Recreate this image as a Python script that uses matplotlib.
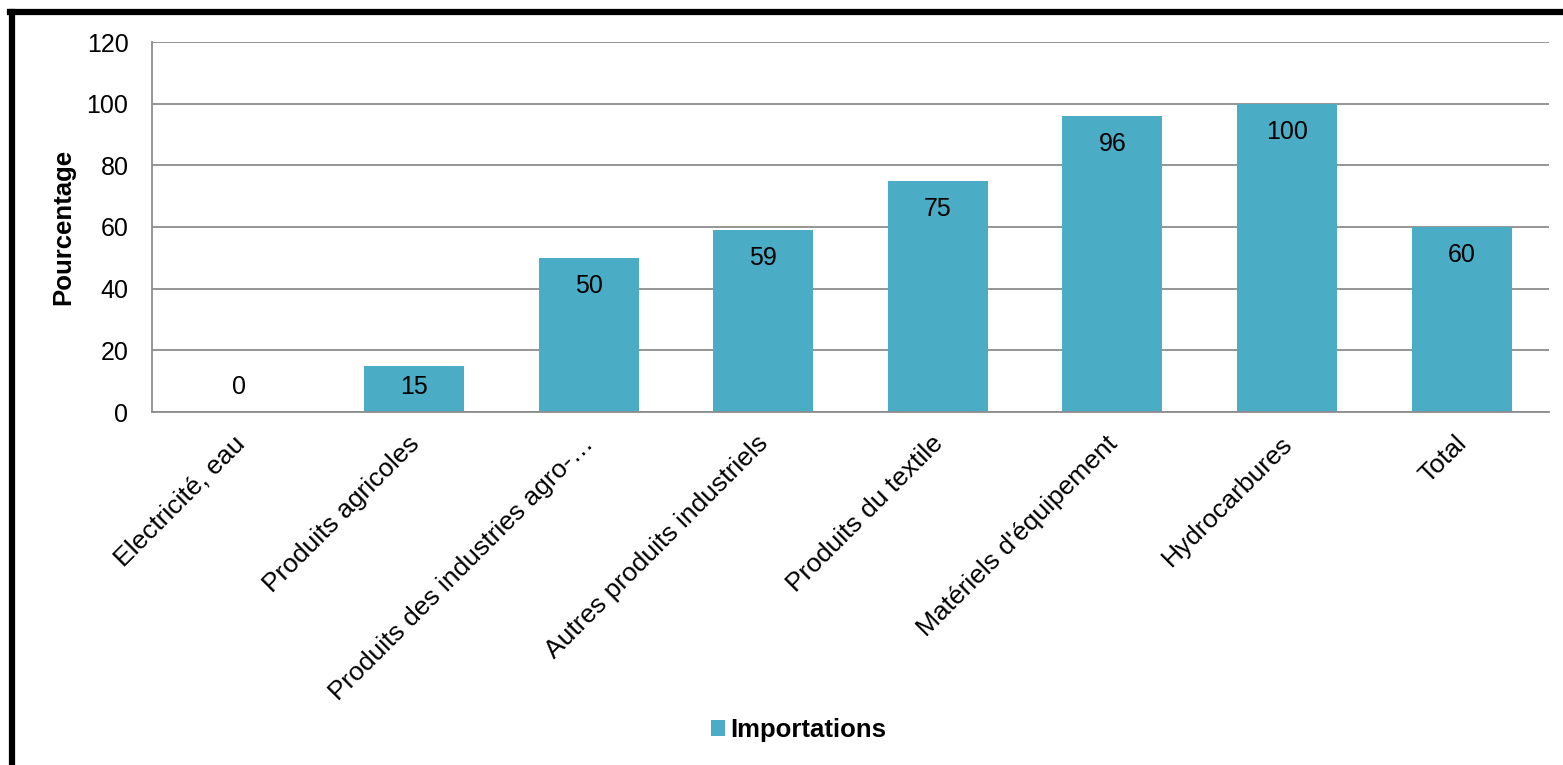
import matplotlib.pyplot as plt
import matplotlib.transforms as mtransforms
from matplotlib.lines import Line2D
from matplotlib.patches import Patch

plt.rcParams['font.family'] = ['Liberation Sans', 'DejaVu Sans']

categories = ["Electricité, eau", "Produits agricoles", "Produits des industries agro-…",
              "Autres produits industriels", "Produits du textile", "Matériels d'équipement",
              "Hydrocarbures", "Total"]
importations = [0, 15, 50, 59, 75, 96, 100, 60]
yticks = [0, 20, 40, 60, 80, 100, 120]

bar_color = '#4BACC6'
grid_color = '#8c8c8c'

fig = plt.figure(figsize=(15.63, 7.65), dpi=100)
ax = fig.add_axes([152 / 1563, 1 - 412 / 765, (1549 - 152) / 1563, (412 - 42) / 765])

x = list(range(len(categories)))
bars = ax.bar(x, importations, width=0.573, color=bar_color, zorder=2)

ax.set_xlim(-0.5, len(categories) - 0.5)
ax.set_ylim(0, 120)
ax.set_yticks(yticks)
ax.set_yticklabels([str(t) for t in yticks], fontsize=18)
ax.yaxis.grid(True, color=grid_color, linewidth=1.3, zorder=0)
ax.set_axisbelow(True)
ax.tick_params(axis='y', length=0, pad=17)
ax.tick_params(axis='x', length=0, pad=14)
ax.set_xticks(x)
ax.set_xticklabels(categories, rotation=45, ha='right', rotation_mode='anchor', fontsize=19)
shift = mtransforms.ScaledTranslation(-7 / 100, 0, fig.dpi_scale_trans)
for lbl in ax.get_xticklabels():
    lbl.set_transform(lbl.get_transform() + shift)

for side in ['top', 'right']:
    ax.spines[side].set_visible(False)
for side in ['left', 'bottom']:
    ax.spines[side].set_color(grid_color)
    ax.spines[side].set_linewidth(1.3)

# data labels: inside end of bar, kept off the axis for short bars
for xi, v in zip(x, importations):
    ax.text(xi, max(v - 9.1, 8.1), str(v), ha='center', va='center', fontsize=18, zorder=3)

ax.set_ylabel('Pourcentage', fontsize=18.5, fontweight='bold', labelpad=8)

handle = Patch(facecolor=bar_color, edgecolor='none')
leg = fig.legend([handle], ['Importations'], loc='center', bbox_to_anchor=(799 / 1563, 1 - 730 / 765),
                 frameon=False, prop={'size': 18.5, 'weight': 'bold'},
                 handlelength=0.55, handleheight=0.55, handletextpad=0.2)

# black frame on left and top (chart border cut off at right/bottom)
fig.add_artist(Line2D([12 / 1563, 12 / 1563], [0, 1 - 12 / 765], transform=fig.transFigure,
                      color='black', linewidth=4.5))
fig.add_artist(Line2D([10 / 1563, 1], [1 - 12 / 765, 1 - 12 / 765], transform=fig.transFigure,
                      color='black', linewidth=4.5))

fig.savefig('out.png', dpi=100)
